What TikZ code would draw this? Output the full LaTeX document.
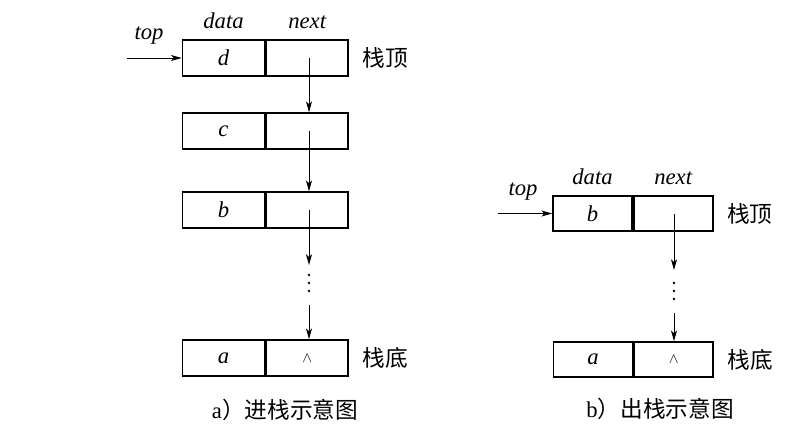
\documentclass[tikz,border=0pt]{standalone}
\usepackage{fontspec}
\setmainfont{Liberation Serif}
\newfontfamily\cjk{Noto Sans CJK SC}
\usetikzlibrary{positioning,arrows.meta}

\newcommand\figsize{\fontsize{17pt}{20pt}\selectfont}

\tikzset{
	cell/.style={draw, line width=1.25pt, minimum width=61.5pt, minimum height=27pt,
		inner sep=0pt, font=\figsize\itshape},
	rcell/.style={cell, minimum width=59.25pt, minimum height=26.25pt},
	field/.style={font=\figsize\itshape, inner sep=1pt, text height=0.7em, text depth=0pt},
	side/.style={font=\figsize\cjk, inner sep=0pt},
	link/.style={line width=0.7pt, -{Stealth[length=8pt,width=4.5pt,inset=2pt]}},
	dotrow/.style={line width=2.2pt, line cap=round, dash pattern=on 0pt off 6pt},
}

\begin{document}
\begin{tikzpicture}[x=0.75pt,y=-0.75pt]
		\useasboundingbox (0,0) rectangle (804,435);
		
		% a) push
		\node[cell] (dd) at (223.5,58) {d};
		\node[cell, right=0pt of dd] (dn) {};
		\node[cell] (cd) at (223.5,131) {c};
		\node[cell, right=0pt of cd] (cn) {};
		\node[cell] (bd) at (223.5,210) {b};
		\node[cell, right=0pt of bd] (bn) {};
		\node[cell] (ad) at (223.5,358) {a};
		\node[cell, right=0pt of ad] (an) {\fontsize{11pt}{12pt}\selectfont$\wedge$};
		
		\node[field, above=7pt of dd] (ldata) {data};
		\node[field, above=7pt of dn] (lnext) {next};
		\node[field] (ltop) at (149,35) {top};
		\coordinate (lin) at (127,58);
		\node[side, right=10pt of dn] (ltopsign) {栈顶};
		\node[side, right=10pt of an] (lbotsign) {栈底};
		
		\coordinate (lx) at (309,0);
		\coordinate (lhead) at (309,265);
		\coordinate (ldot1) at (309,275);
		\coordinate (ldot2) at (309,292);
		\coordinate (ltail) at (309,305);
		
		\draw[link] (lin) -- (dd.west);
		\draw[link] (lx |- dn.center) -- (lx |- cn.north);
		\draw[link] (lx |- cn.center) -- (lx |- bn.north);
		\draw[link] (lx |- bn.center) -- (lhead);
		\draw[dotrow] (ldot1) -- (ldot2);
		\draw[link] (ltail) -- (lx |- an.north);
		
		\node[font=\figsize] (lcap) at (285,410) {a{\cjk ）进栈示意图}};
		
		% b) pop
		\node[rcell] (rbd) at (592.5,213.5) {b};
		\node[rcell, right=0pt of rbd] (rbn) {};
		\node[rcell] (rad) at (593,359.5) {a};
		\node[rcell, right=0pt of rad] (ran) {\fontsize{11pt}{12pt}\selectfont$\wedge$};
		
		\node[field, above=7pt of rbd] (rdata) {data};
		\node[field, above=7pt of rbn] (rnext) {next};
		\node[field] (rtop) at (523,191) {top};
		\coordinate (rin) at (498,213.5);
		\node[side, right=10pt of rbn] (rtopsign) {栈顶};
		\node[side, right=10pt of ran] (rbotsign) {栈底};
		
		\coordinate (rx) at (674,0);
		\coordinate (rhead) at (674,270);
		\coordinate (rdot1) at (674,283);
		\coordinate (rdot2) at (674,300);
		\coordinate (rtail) at (674,313);
		
		\draw[link] (rin) -- (rbd.west);
		\draw[link] (rx |- rbn.center) -- (rhead);
		\draw[dotrow] (rdot1) -- (rdot2);
		\draw[link] (rtail) -- (rx |- ran.north);
		
		\node[font=\figsize] (rcap) at (660,409) {b{\cjk ）出栈示意图}};
\end{tikzpicture}
\end{document}
